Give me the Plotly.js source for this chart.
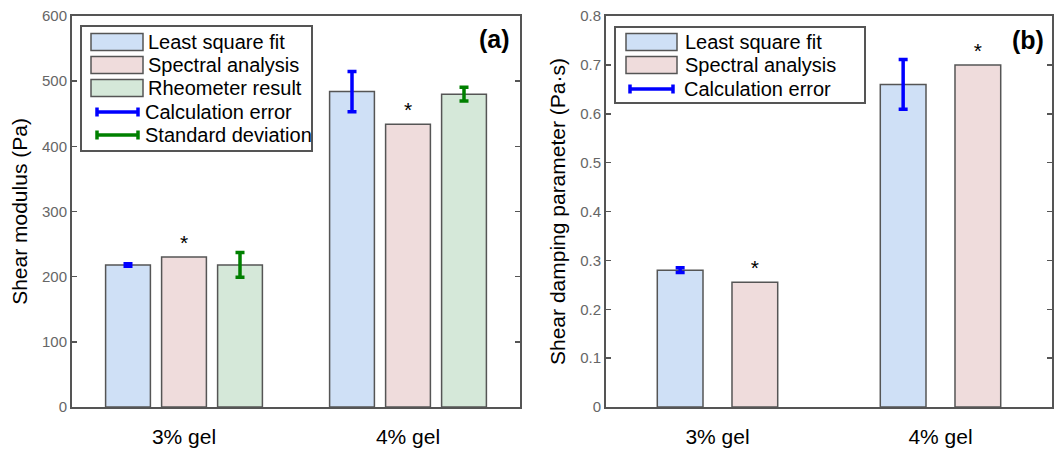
<!DOCTYPE html>
<html><head><meta charset="utf-8">
<script src="https://cdn.plot.ly/plotly-3.0.1.min.js"></script>
<style>html,body{margin:0;padding:0;background:#fff}#chart{width:1054px;height:454px}</style>
</head><body><div id="chart"></div>
<script>
// ---- data ----
const categories = ['3% gel', '4% gel'];
const seriesNamesA = ['Least square fit', 'Spectral analysis', 'Rheometer result'];
const errNamesA = ['Calculation error', 'Standard deviation'];
const seriesNamesB = ['Least square fit', 'Spectral analysis'];
const errNamesB = ['Calculation error'];

const modulusLSF = [218, 484];
const modulusLSFErr = [2, 31];
const modulusSA = [230, 434];
const modulusRheo = [218, 480];
const modulusRheoErr = [19, 10.5];

const dampLSF = [0.28, 0.66];
const dampLSFErr = [0.005, 0.051];
const dampSA = [0.255, 0.70];

const yTicksA = [0, 100, 200, 300, 400, 500, 600];
const yTicksB = [0, 0.1, 0.2, 0.3, 0.4, 0.5, 0.6, 0.7, 0.8];
const sigMark = ['*', '*'];

// ---- styles ----
const W = 1054, H = 454;
const FONT = 'Liberation Sans, Arial, sans-serif';
const fillBlue = '#cfe0f6', fillPink = '#efdcdc', fillGreen = '#d5e8d9';
const edge = '#555555';
const errBlue = '#0000ff', errGreen = '#008000';
const px = x => x / W, py = y => 1 - y / H;

function barTrace(name, y, fill, xa, ya, offset, width, err, errColor, text) {
  const t = {
    type: 'bar', name: name, x: categories, y: y, xaxis: xa, yaxis: ya,
    offset: offset, width: width,
    marker: {color: fill, line: {color: edge, width: 1.5}},
    showlegend: false, hoverinfo: 'skip', cliponaxis: false
  };
  if (err) t.error_y = {type: 'data', array: err, visible: true, color: errColor, thickness: 3.5, width: 4.5};
  if (text) { t.text = text; t.textposition = 'outside'; t.textfont = {size: 21, color: '#000', family: FONT}; }
  return t;
}

const data = [
  barTrace(seriesNamesA[0], modulusLSF, fillBlue, 'x', 'y', -0.35, 0.2, modulusLSFErr, errBlue),
  barTrace(seriesNamesA[1], modulusSA, fillPink, 'x', 'y', -0.1, 0.2, null, null, sigMark),
  barTrace(seriesNamesA[2], modulusRheo, fillGreen, 'x', 'y', 0.15, 0.2, modulusRheoErr, errGreen),
  barTrace(seriesNamesB[0], dampLSF, fillBlue, 'x2', 'y2', -0.27, 0.205, dampLSFErr, errBlue),
  barTrace(seriesNamesB[1], dampSA, fillPink, 'x2', 'y2', 0.065, 0.205, null, null, sigMark)
];

// ---- custom legends (shapes + annotations in paper coords) ----
const shapes = [], annotations = [];
function legendBox(x0, y0, x1, y1, barItems, errItems, rows, swX0, swX1, erX0, erX1, txtX, errTxtX) {
  shapes.push({type: 'rect', xref: 'paper', yref: 'paper', x0: px(x0), x1: px(x1), y0: py(y0), y1: py(y1),
    line: {color: '#555', width: 2}, fillcolor: '#fff', layer: 'above'});
  let r = 0;
  barItems.forEach(it => {
    const cy = rows[r++];
    shapes.push({type: 'rect', xref: 'paper', yref: 'paper', x0: px(swX0), x1: px(swX1), y0: py(cy - 8.5), y1: py(cy + 8.5),
      line: {color: edge, width: 1.5}, fillcolor: it.fill, layer: 'above'});
    annotations.push({xref: 'paper', yref: 'paper', x: px(txtX), y: py(cy), xanchor: 'left', yanchor: 'middle',
      text: it.name, showarrow: false, font: {family: FONT, size: 20, color: '#000'}});
  });
  errItems.forEach(it => {
    const cy = rows[r++];
    shapes.push({type: 'line', xref: 'paper', yref: 'paper', x0: px(erX0), x1: px(erX1), y0: py(cy), y1: py(cy),
      line: {color: it.color, width: 3.5}, layer: 'above'});
    [erX0, erX1].forEach(ex => shapes.push({type: 'line', xref: 'paper', yref: 'paper', x0: px(ex), x1: px(ex),
      y0: py(cy - 4.5), y1: py(cy + 4.5), line: {color: it.color, width: 3.5}, layer: 'above'}));
    annotations.push({xref: 'paper', yref: 'paper', x: px(errTxtX), y: py(cy), xanchor: 'left', yanchor: 'middle',
      text: it.name, showarrow: false, font: {family: FONT, size: 20, color: '#000'}});
  });
}
legendBox(81, 26, 312, 151,
  [{name: seriesNamesA[0], fill: fillBlue}, {name: seriesNamesA[1], fill: fillPink}, {name: seriesNamesA[2], fill: fillGreen}],
  [{name: errNamesA[0], color: errBlue}, {name: errNamesA[1], color: errGreen}],
  [42, 65, 88, 112, 135], 91, 143, 97, 138, 146, 143);
legendBox(615, 27, 865, 103,
  [{name: seriesNamesB[0], fill: fillBlue}, {name: seriesNamesB[1], fill: fillPink}],
  [{name: errNamesB[0], color: errBlue}],
  [42, 65, 89], 626, 677, 630, 673, 683, 682);

annotations.push({xref: 'paper', yref: 'paper', x: px(494), y: py(39), xanchor: 'center', yanchor: 'middle',
  text: '<b>(a)</b>', showarrow: false, font: {family: FONT, size: 25, color: '#000'}});
annotations.push({xref: 'paper', yref: 'paper', x: px(1028), y: py(40), xanchor: 'center', yanchor: 'middle',
  text: '<b>(b)</b>', showarrow: false, font: {family: FONT, size: 25, color: '#000'}});

const xBase = {
  type: 'category', range: [-0.5, 1.5], showline: true, mirror: true, linecolor: edge, linewidth: 2,
  ticks: '', showgrid: false, zeroline: false, fixedrange: true,
  tickfont: {family: FONT, size: 21, color: '#000'}, ticklabelstandoff: 10
};
const yBase = {
  showline: true, mirror: 'ticks', linecolor: edge, linewidth: 2, ticks: 'inside', ticklen: 5,
  tickcolor: edge, tickwidth: 1.5, showgrid: false, zeroline: false, fixedrange: true,
  tickfont: {family: FONT, size: 15, color: '#666'}, tickmode: 'array'
};

const layout = {
  width: W, height: H, margin: {l: 0, r: 0, t: 0, b: 0}, paper_bgcolor: '#fff', plot_bgcolor: '#fff',
  barmode: 'overlay', showlegend: false, font: {family: FONT},
  xaxis: Object.assign({}, xBase, {domain: [px(72), px(520)], anchor: 'y'}),
  yaxis: Object.assign({}, yBase, {domain: [py(407), py(16)], range: [0, 600], anchor: 'x',
    tickvals: yTicksA, ticktext: yTicksA.map(String),
    title: {text: 'Shear modulus (Pa)', font: {family: FONT, size: 21, color: '#000'}, standoff: 9}}),
  xaxis2: Object.assign({}, xBase, {domain: [px(606), px(1052)], anchor: 'y2'}),
  yaxis2: Object.assign({}, yBase, {domain: [py(407), py(16)], range: [0, 0.8], anchor: 'x2',
    tickvals: yTicksB, ticktext: yTicksB.map(String),
    title: {text: 'Shear damping parameter (Pa·s)', font: {family: FONT, size: 21, color: '#000'}, standoff: 9}}),
  shapes: shapes, annotations: annotations
};

Plotly.newPlot('chart', data, layout, {displayModeBar: false, staticPlot: true});
</script></body></html>
